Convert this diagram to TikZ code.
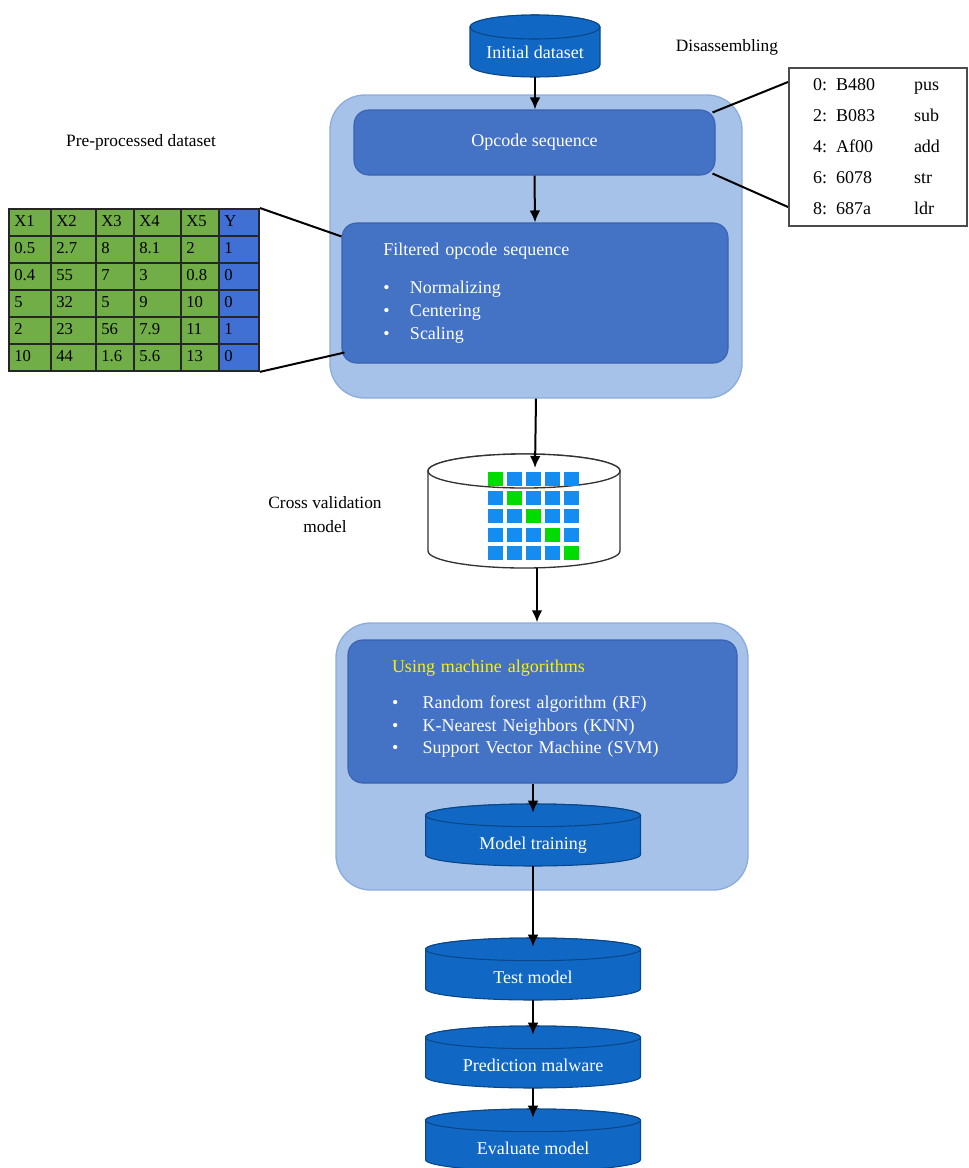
\documentclass[tikz,border=0pt]{standalone}
\usepackage{fontspec}
\setmainfont{Liberation Serif}
\usetikzlibrary{calc,arrows.meta,positioning,matrix}
\definecolor{panelblue}{RGB}{166,194,232}
\definecolor{paneledge}{RGB}{140,172,218}
\definecolor{stepblue}{RGB}{68,114,196}
\definecolor{stepedge}{RGB}{58,98,176}
\definecolor{drumblue}{RGB}{16,104,196}
\definecolor{drumedge}{RGB}{10,70,135}
\definecolor{cellgreen}{RGB}{114,174,72}
\definecolor{cellblue}{RGB}{64,112,212}
\definecolor{gridblue}{RGB}{20,140,240}
\definecolor{gridgreen}{RGB}{0,220,0}
% cylinder outline: centre, half width, half height, end radius, paint
\newcommand{\drumat}[5]{%
  \begin{scope}[shift={#1}]
    \path[#5] (-#2,#3-#4) -- (-#2,-#3+#4)
      arc[start angle=180, end angle=360, x radius=#2, y radius=#4]
      -- (#2,#3-#4)
      arc[start angle=0, end angle=180, x radius=#2, y radius=#4] -- cycle;
    \path[#5] (0,#3-#4) ellipse[x radius=#2, y radius=#4];
  \end{scope}}
\tikzset{panel/.style={rectangle, rounded corners=26pt, fill=panelblue,
       draw=paneledge, line width=1pt},
     stepbox/.style={rectangle, rounded corners=11pt, fill=stepblue,
       draw=stepedge, line width=0.8pt, text=white,
       font=\fontsize{13.5}{17}\selectfont},
     drum/.style={rectangle, text=white, font=\fontsize{13.5}{16}\selectfont,
       minimum width=161.25pt, minimum height=46.5pt,
       text height=22pt, text depth=0pt},
     drumpaint/.style={fill=drumblue, draw=drumedge, line width=0.8pt},
     flow/.style={-{Latex[length=9pt,width=8pt]}, line width=1.5pt},
     link/.style={line width=1.5pt},
     cell/.style={rectangle, draw=black!85, line width=1pt,
       fill=cellgreen, minimum height=20.25pt, inner xsep=4pt,
       text height=9pt, text depth=3pt,
       align=left, font=\fontsize{12.5}{14}\selectfont},
     note/.style={font=\fontsize{13}{18}\selectfont, align=center}
}
\begin{document}
\begin{tikzpicture}[x=0.75pt, y=-0.75pt]
  \useasboundingbox (0,0) rectangle (968,1168);

  % pre-processing stage
  \node[panel, minimum width=309pt, minimum height=227.25pt] (prep) at (536,246.5) {};
  \drumat{(535,46)}{48.75pt}{23.25pt}{9pt}{drumpaint}
  \node[drum, minimum width=97.5pt, text height=18pt] (init) at (535,46) {Initial dataset};
  \node[stepbox, minimum width=270.75pt, minimum height=48.75pt] (opcode) at (534.5,142.5) {Opcode sequence};
  \node[stepbox, minimum width=289.5pt, minimum height=105pt, text width=227.5pt,
        inner xsep=31pt, align=left] (filt) at (535,293)
    {Filtered opcode sequence\\[12pt]
     \makebox[20pt][l]{\textbullet}Normalizing\\
     \makebox[20pt][l]{\textbullet}Centering\\
     \makebox[20pt][l]{\textbullet}Scaling};
  \draw[flow] (init.south) -- (init.south |- opcode.north);
  \draw[flow] (opcode.south) -- (filt.north);

  \node[note] (dislabel) at (727,47) {Disassembling};
  \node[rectangle, draw=gray!60!black, line width=1.5pt, fill=white,
        minimum width=133.5pt, minimum height=118.5pt, text width=97.5pt,
        inner xsep=18pt, align=left, anchor=north west,
        font=\fontsize{13.5}{23.25}\selectfont] (dis) at (788,67)
    {\makebox[75.75pt][l]{0: B480}pus\\
     \makebox[75.75pt][l]{2: B083}sub\\
     \makebox[75.75pt][l]{4: Af00}add\\
     \makebox[75.75pt][l]{6: 6078}str\\
     \makebox[75.75pt][l]{8: 687a}ldr};
  \draw[link] ($(opcode.north east)+(-3,3)$) -- ($(dis.north west)+(0,15)$);
  \draw[link] ($(opcode.south east)+(-3,-2)$) -- ($(dis.south west)+(0,-20)$);

  \node[note] (tbllabel) at (141,142) {Pre-processed dataset};
  \matrix[matrix of nodes, nodes={cell}, inner sep=0pt, row sep=-1pt,
          column sep=-1pt, anchor=north west,
          column 1/.style={nodes={text width=23.5pt}},
          column 2/.style={nodes={text width=25.75pt}},
          column 3/.style={nodes={text width=20.5pt}},
          column 4/.style={nodes={text width=27.25pt}},
          column 5/.style={nodes={text width=20.5pt}},
          column 6/.style={nodes={text width=22pt, fill=cellblue}}] (tbl) at (8,208) {
    X1  & X2  & X3  & X4  & X5  & Y \\
    0.5 & 2.7 & 8   & 8.1 & 2   & 1 \\
    0.4 & 55  & 7   & 3   & 0.8 & 0 \\
    5   & 32  & 5   & 9   & 10  & 0 \\
    2   & 23  & 56  & 7.9 & 11  & 1 \\
    10  & 44  & 1.6 & 5.6 & 13  & 0 \\
  };
  \draw[link] (tbl.north east) -- ($(filt.north west)+(0,14)$);
  \draw[link] (tbl.south east) -- ($(filt.south west)+(3,-11)$);

  % cross validation
  \drumat{(524,511)}{72pt}{42.75pt}{12.75pt}{fill=white, draw=black!80, line width=1pt}
  \node[rectangle, minimum width=144pt, minimum height=85.5pt] (cv) at (524,511) {};
  \foreach \r in {0,...,4}
    \foreach \c in {0,...,4} {
      \ifnum\r=\c \def\sq{gridgreen}\else \def\sq{gridblue}\fi
      \fill[\sq] (488+19*\c,472+18.5*\r) rectangle ++(14.5,14);
    }
  \node[note] (cvlabel) at (325,515) {Cross validation\\model};
  \coordinate (cvtop) at (535,468);
  \coordinate (cvfoot) at (537,568);
  \draw[flow] (prep.south) -- (cvtop);

  % learning stage
  \node[panel, minimum width=309pt, minimum height=200.25pt] (learn) at (542,756.5) {};
  \draw[flow] (cvfoot) -- (cvfoot |- learn.north);
  \node[stepbox, minimum width=291.75pt, minimum height=107.25pt, text width=225.75pt,
        inner xsep=33pt, align=left] (algo) at (542.5,711.5)
    {\textcolor{yellow}{Using machine algorithms}\\[10pt]
     \makebox[23pt][l]{\textbullet}Random forest algorithm (RF)\\
     \makebox[23pt][l]{\textbullet}K-Nearest Neighbors (KNN)\\
     \makebox[23pt][l]{\textbullet}Support Vector Machine (SVM)\\[-10pt]\mbox{}};
  \drumat{(533,835)}{80.6pt}{23.25pt}{8.5pt}{drumpaint}
  \node[drum] (train) at (533,835) {Model training};
  \draw[flow] (train.north |- algo.south) -- ($(train.north)+(0,9)$);

  % evaluation
  \drumat{(533,969)}{80.6pt}{23.25pt}{8.5pt}{drumpaint}
  \node[drum] (test) at (533,969) {Test model};
  \drumat{(533,1057)}{80.6pt}{23.25pt}{8.5pt}{drumpaint}
  \node[drum] (pred) at (533,1057) {Prediction malware};
  \drumat{(533,1140)}{80.6pt}{23.25pt}{8.5pt}{drumpaint}
  \node[drum] (eval) at (533,1140) {Evaluate model};
  \draw[flow] (train.south) -- ($(test.north)+(0,9)$);
  \draw[flow] (test.south) -- ($(pred.north)+(0,9)$);
  \draw[flow] (pred.south) -- ($(eval.north)+(0,9)$);
\end{tikzpicture}
\end{document}
